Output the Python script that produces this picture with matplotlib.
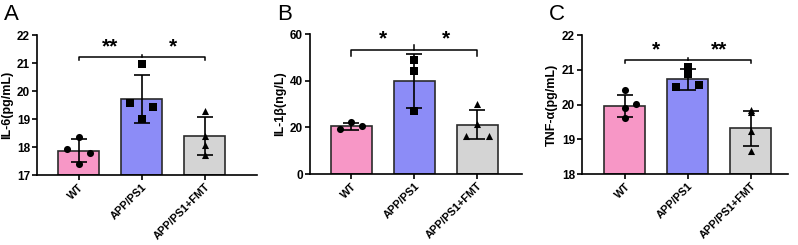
import matplotlib
matplotlib.use("Agg")
import matplotlib.pyplot as plt

plt.rcParams["font.family"] = ["Liberation Sans", "DejaVu Sans"]
plt.rcParams["font.weight"] = "bold"

GROUPS = ["WT", "APP/PS1", "APP/PS1+FMT"]
COLORS = ["#f797c6", "#8c8cf7", "#d4d4d4"]

# panel A: IL-6 (pg/mL)
IL6_MEAN = [17.87, 19.72, 18.40]
IL6_SD = [0.41, 0.85, 0.67]
IL6_PTS = [[18.36, 17.94, 17.80, 17.38],
           [20.96, 19.56, 19.44, 18.99],
           [19.30, 18.39, 18.06, 17.71]]

# panel B: IL-1beta (ng/L)
IL1B_MEAN = [20.5, 39.8, 21.2]
IL1B_SD = [1.5, 11.65, 6.4]
IL1B_PTS = [[19.5, 22.3, 20.6],
            [48.8, 44.2, 26.9],
            [30.2, 21.3, 16.5, 16.5]]

# panel C: TNF-alpha (pg/mL)
TNF_MEAN = [19.96, 20.72, 19.32]
TNF_SD = [0.31, 0.29, 0.50]
TNF_PTS = [[20.41, 19.91, 20.02, 19.61],
           [21.08, 20.89, 20.49, 20.55],
           [19.83, 19.77, 19.23, 18.65]]

# horizontal jitter of the dots (layout only)
J = 0.18
JIT_A = [[0, -J, J, 0], [0, -J, J, 0], [0, 0, 0, 0]]
JIT_B = [[-J, 0, J], [0, 0, 0], [0, 0, -J, J]]
JIT_C = [[0, 0, J, 0], [0, 0, -J, J], [0, 0, 0, 0]]

MARKERS = ["o", "s", "^"]

PANELS = [
    dict(letter="A", label="IL-6(pg/mL)", mean=IL6_MEAN, sd=IL6_SD, pts=IL6_PTS, jit=JIT_A,
         ylim=(17, 22), ticks=[17, 18, 19, 20, 21, 22], stars=("**", "*"),
         br=21.21, tick=0.11, rect=(37, 257, 35, 175), xlim=(-0.66, 2.83)),
    dict(letter="B", label="IL-1β(ng/L)", mean=IL1B_MEAN, sd=IL1B_SD, pts=IL1B_PTS, jit=JIT_B,
         ylim=(0, 60), ticks=[0, 20, 40, 60], stars=("*", "*"),
         br=53.1, tick=2.6, rect=(310, 522, 34, 174), xlim=(-0.65, 2.71)),
    dict(letter="C", label="TNF-α(pg/mL)", mean=TNF_MEAN, sd=TNF_SD, pts=TNF_PTS, jit=JIT_C,
         ylim=(18, 22), ticks=[18, 19, 20, 21, 22], stars=("*", "**"),
         br=21.27, tick=0.08, rect=(582, 788, 35, 174), xlim=(-0.68, 2.59)),
]

W, H = 798, 245
fig = plt.figure(figsize=(W / 100, H / 100), dpi=100)

for p in PANELS:
    l, r, t, b = p["rect"]
    ax = fig.add_axes([l / W, (H - b) / H, (r - l) / W, (b - t) / H])
    x = range(len(GROUPS))
    ax.bar(x, [m - p["ylim"][0] for m in p["mean"]], bottom=p["ylim"][0], width=0.65,
           color=COLORS, edgecolor="#2b2b2b", linewidth=1.2, zorder=2)
    ax.errorbar(x, p["mean"], yerr=p["sd"], fmt="none", ecolor="black", elinewidth=1.2,
                capsize=6, capthick=1.2, zorder=3)
    for i, (vals, jit) in enumerate(zip(p["pts"], p["jit"])):
        ax.scatter([i + j for j in jit], vals, marker=MARKERS[i], s=26, color="black",
                   zorder=4, clip_on=False, linewidths=0)

    # significance bracket
    y, tk = p["br"], p["tick"]
    ax.plot([0, 0, 2, 2], [y - tk, y, y, y - tk], color="black", lw=1.1, zorder=5,
            clip_on=False)
    ax.plot([1, 1], [y, y + tk * 0.8], color="black", lw=1.1, zorder=5, clip_on=False)
    for xs, st in zip((0.5, 1.5), p["stars"]):
        ax.text(xs, y + tk * 0.3, st, ha="center", va="bottom", fontsize=15,
                fontweight="bold")

    ax.set_xlim(*p["xlim"])
    ax.set_ylim(*p["ylim"])
    ax.set_yticks(p["ticks"])
    ax.set_xticks(list(x))
    ax.set_xticklabels(GROUPS, rotation=45, ha="right", rotation_mode="anchor",
                       fontsize=7.8, fontweight="bold")
    ax.tick_params(axis="y", labelsize=8.5, width=1.2, length=3.5, pad=1.5)
    ax.tick_params(axis="x", width=1.2, length=3.5, pad=1.5)
    ax.set_ylabel(p["label"], fontsize=9, fontweight="bold", labelpad=3)
    for s in ("top", "right"):
        ax.spines[s].set_visible(False)
    for s in ("left", "bottom"):
        ax.spines[s].set_linewidth(1.2)
    fig.text((l - 33) / W, 1 - 4 / H, p["letter"], fontsize=16, fontweight="normal",
             ha="left", va="top")

fig.savefig("out.png", dpi=100)
